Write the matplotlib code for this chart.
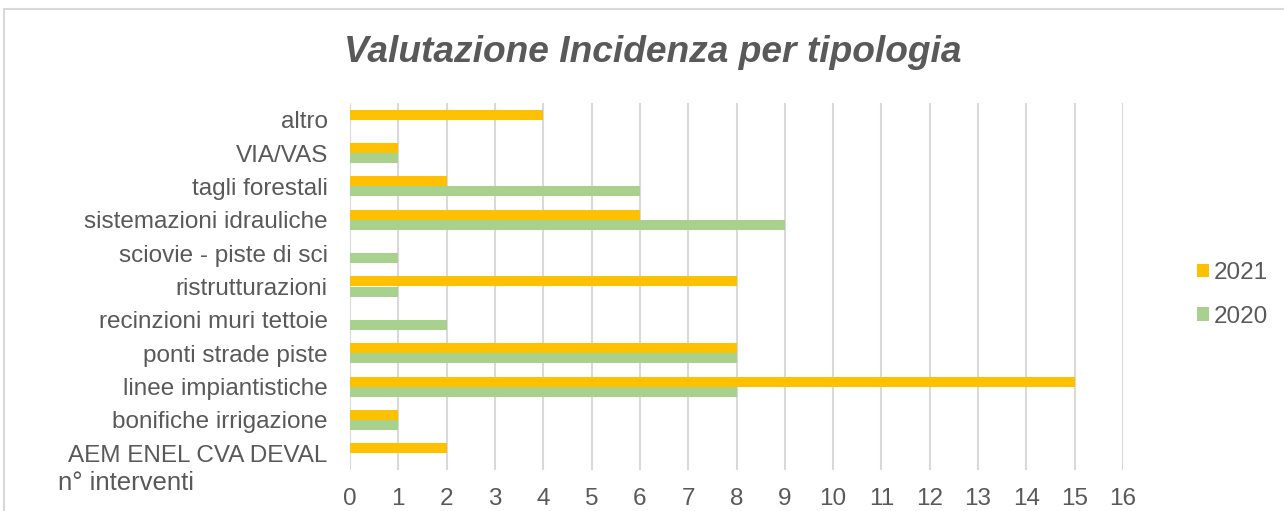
import matplotlib
matplotlib.use("Agg")
import matplotlib.pyplot as plt
from matplotlib.patches import Rectangle
import numpy as np

categories = ["AEM ENEL CVA DEVAL", "bonifiche irrigazione", "linee impiantistiche",
              "ponti strade piste", "recinzioni muri tettoie", "ristrutturazioni",
              "sciovie - piste di sci", "sistemazioni idrauliche", "tagli forestali",
              "VIA/VAS", "altro"]
values_2021 = [2, 1, 15, 8, 0, 8, 0, 6, 2, 1, 4]
values_2020 = [0, 1, 8, 8, 2, 1, 1, 9, 6, 1, 0]
x_ticks = list(range(0, 17))

plt.rcParams['font.family'] = ['Liberation Sans', 'DejaVu Sans']
TEXT = "#595959"
ORANGE = "#FFC000"
GREEN = "#A9D18E"
GRID = "#D9D9D9"
FS = 17.5

W, H = 1284, 511
fig = plt.figure(figsize=(W / 100, H / 100), dpi=100)
ax = fig.add_axes([350 / W, 1 - 470 / H, (1123 - 350) / W, (470 - 103) / H])

y = np.arange(len(categories))
h = 0.3
ax.barh(y + h / 2, values_2021, height=h, color=ORANGE, label="2021", zorder=3)
ax.barh(y - h / 2, values_2020, height=h, color=GREEN, label="2020", zorder=3)

ax.set_xlim(0, 16)
ax.set_ylim(-0.5, len(categories) - 0.5)
ax.set_xticks(x_ticks)
ax.set_xticklabels([str(t) for t in x_ticks])
ax.set_yticks(y)
ax.set_yticklabels(categories)
ax.tick_params(axis='x', length=0, pad=13, labelsize=FS, labelcolor=TEXT)
ax.tick_params(axis='y', length=0, pad=16, labelsize=FS, labelcolor=TEXT)
ax.xaxis.grid(True, color=GRID, linewidth=1.5, zorder=0)
ax.set_axisbelow(True)
for s in ax.spines.values():
    s.set_visible(False)

fig.text(653 / W, 1 - 52 / H, "Valutazione Incidenza per tipologia", ha='center', va='center',
         fontsize=26.7, fontstyle='italic', fontweight='bold', color=TEXT)
fig.text(58 / W, 1 - 483 / H, "n° interventi", ha='left', va='center', fontsize=18.5, color=TEXT)

leg = fig.legend(loc='center left', bbox_to_anchor=(1187 / W, 1 - 295 / H), frameon=False,
                 fontsize=FS, handlelength=0.5, handleheight=0.5, handletextpad=0.2,
                 labelspacing=0.9, borderaxespad=0)
for t in leg.get_texts():
    t.set_color(TEXT)

frame = Rectangle((4 / W, -0.2), 1.2, (1 - 9 / H) + 0.2, transform=fig.transFigure,
                  fill=False, edgecolor=GRID, linewidth=1.5)
fig.patches.append(frame)

fig.savefig("out.png", dpi=100, facecolor="white")
